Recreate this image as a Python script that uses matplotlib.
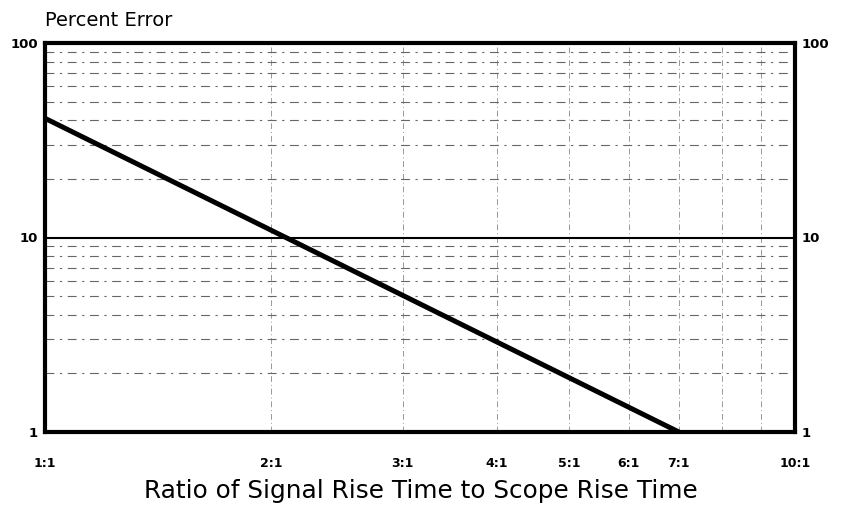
import matplotlib
matplotlib.use("Agg")
import matplotlib.pyplot as plt

ratio = [1, 7]
percent_error = [41, 1]
x_ticks = [1, 2, 3, 4, 5, 6, 7, 10]
x_tick_labels = ["1:1", "2:1", "3:1", "4:1", "5:1", "6:1", "7:1", "10:1"]
y_ticks = [1, 10, 100]
y_tick_labels = ["1", "10", "100"]
x_grid = [2, 3, 4, 5, 6, 7, 8, 9]
y_grid = [2, 3, 4, 5, 6, 7, 8, 9, 20, 30, 40, 50, 60, 70, 80, 90]

plt.rcParams['font.family'] = ['DejaVu Sans']

fig = plt.figure(figsize=(8.42, 5.08), dpi=100)
ax = fig.add_axes([45/842, 1-432/508, (795-45)/842, (432-43)/508])
ax.set_xscale('log')
ax.set_yscale('log')
ax.set_xlim(1, 10)
ax.set_ylim(1, 100)

for g in x_grid:
    ax.axvline(g, color='#999999', lw=0.7, ls=(0, (6, 3, 1, 3)), zorder=1)
for g in y_grid:
    ax.axhline(g, color='#666666', lw=0.8, ls=(0, (8, 5, 2, 5)), zorder=1)
ax.axhline(10, color='black', lw=1.5, zorder=2)

ax.plot(ratio, percent_error, color='black', lw=3.6, solid_capstyle='butt', zorder=3)

for s in ax.spines.values():
    s.set_linewidth(3.0)

ax.set_xticks(x_ticks)
ax.set_xticklabels(x_tick_labels, fontsize=9, fontweight='bold')
ax.set_xticks([], minor=True)
ax.tick_params(axis='x', length=0, pad=18)

ax.set_yticks(y_ticks)
ax.set_yticklabels(y_tick_labels, fontsize=9.5, fontweight='bold')
ax.set_yticks([], minor=True)
ax.tick_params(axis='y', length=0, pad=5, labelright=True, right=False)

fig.text(45/842, 1-21/508, "Percent Error", fontsize=14, ha='left', va='center')
fig.text(421/842, 1-491/508, "Ratio of Signal Rise Time to Scope Rise Time",
         fontsize=17.8, ha='center', va='center')

fig.savefig("out.png", dpi=100)
